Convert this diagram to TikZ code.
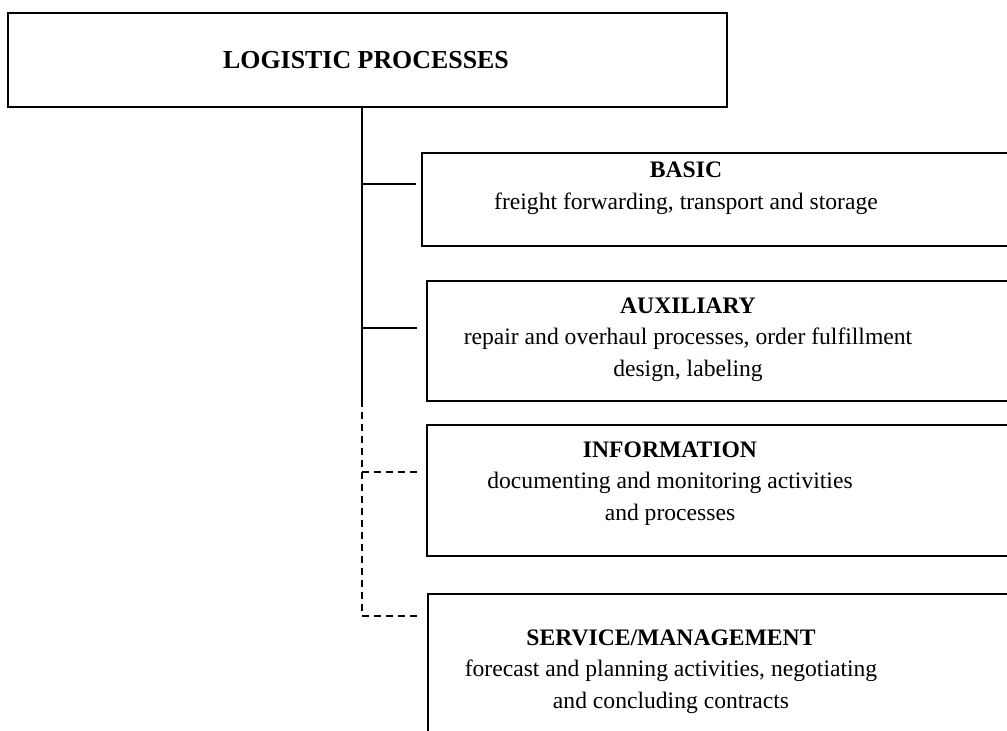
\documentclass[tikz,border=0pt]{standalone}
\usepackage{fontspec}
\setmainfont{Liberation Serif}
\begin{document}
\begin{tikzpicture}[x=1bp,y=-1bp,
  box/.style={draw, line width=1.6bp, anchor=north west, inner sep=0pt, minimum height=#1},
  lbl/.style={anchor=base, align=center, inner sep=0pt, font=\fontsize{23.7}{31.6}\selectfont},
  conn/.style={line width=1.6bp},
  dconn/.style={line width=1.6bp, dash pattern=on 7bp off 5bp}]
\useasboundingbox (0,0) rectangle (1007,731);
\clip (0,0) rectangle (1007,731);
% boxes
\node[box=94bp, minimum width=719bp] (top) at (7,12) {};
\node[box=93bp, minimum width=620bp] (basic) at (421,152) {};
\node[box=120bp, minimum width=620bp] (aux) at (426,280) {};
\node[box=131bp, minimum width=620bp] (info) at (426,424) {};
\node[box=160bp, minimum width=620bp] (serv) at (427,593) {};
% texts
\node[lbl, font=\fontsize{26}{31.6}\selectfont] (ttop) at (366,69) {\textbf{LOGISTIC PROCESSES}};
\node[lbl] (tbasic) at (686,209) {\textbf{BASIC}\\freight forwarding, transport and storage};
\node[lbl] (taux) at (688,376) {\textbf{AUXILIARY}\\repair and overhaul processes, order fulfillment\\design, labeling};
\node[lbl] (tinfo) at (670,520) {\textbf{INFORMATION}\\documenting and monitoring activities\\and processes};
\node[lbl] (tserv) at (671,708) {\textbf{SERVICE/MANAGEMENT}\\forecast and planning activities, negotiating\\and concluding contracts};
% trunk
\coordinate (t0) at (362,106);
\coordinate (t1) at (362,400);
\coordinate (cb) at (362,184);
\coordinate (ca) at (362,328);
\coordinate (ci) at (362,472);
\coordinate (cs) at (362,616);
\draw[conn] (t0) -- (t1);
\draw[dconn] (t1) -- (cs);
\draw[conn] (cb) -- ([xshift=-5bp]cb -| basic.west);
\draw[conn] (ca) -- ([xshift=-9bp]ca -| aux.west);
\draw[dconn] (ci) -- ([xshift=-9bp]ci -| info.west);
\draw[dconn] (cs) -- ([xshift=-10bp]cs -| serv.west);
\end{tikzpicture}
\end{document}
